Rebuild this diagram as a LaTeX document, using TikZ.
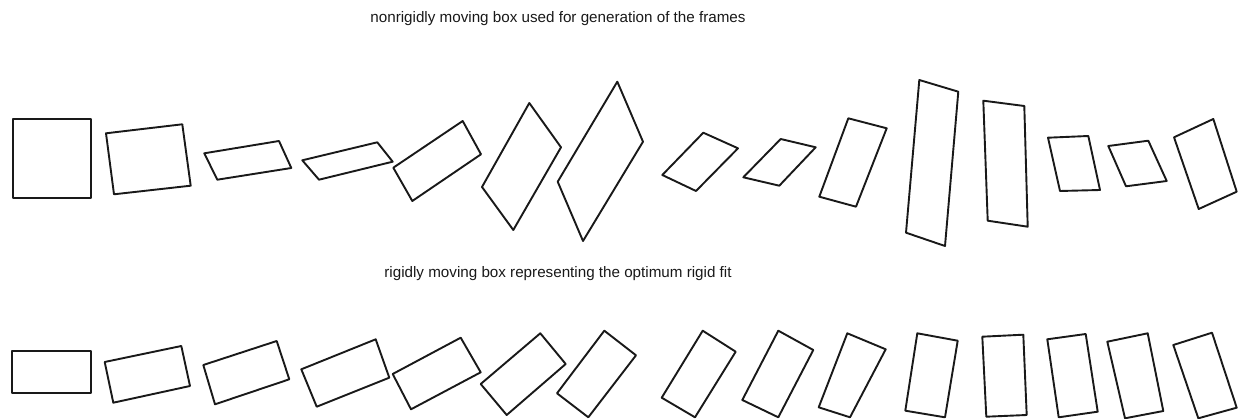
\documentclass[tikz,border=0pt]{standalone}
\usepackage{fontspec}
\setmainfont{Liberation Sans}

\tikzstyle{frame}=[draw=black!90, line width=1.9pt, line join=round]
\tikzstyle{caption}=[anchor=base, inner sep=0pt, text=black!90, font=\fontsize{15.2}{18}\selectfont]

\begin{document}
\begin{tikzpicture}[x=1pt, y=-1pt]
	\useasboundingbox (0,0) rectangle (1239,419);

	% Captions
	\node[caption] (nonrigid label) at (558,22.5) {nonrigidly moving box used for generation of the frames};
	\node[caption] (rigid label) at (558,278) {rigidly moving box representing the optimum rigid fit};

	% Nonrigidly moving box
	\draw[frame] (13,119) -- (91,119) -- (91,198) -- (13,198) -- cycle;
	\draw[frame] (106,133.3) -- (182.3,124.3) -- (190.7,185.7) -- (114,194.3) -- cycle;
	\draw[frame] (204.3,153.3) -- (279,141) -- (291.3,168) -- (217.3,179.7) -- cycle;
	\draw[frame] (302.3,160.3) -- (377.3,142.3) -- (392.7,161.7) -- (319,179.7) -- cycle;
	\draw[frame] (393.3,167.7) -- (462.7,121) -- (481,154.3) -- (412.3,201) -- cycle;
	\draw[frame] (529.3,103) -- (561,147.3) -- (513.3,230) -- (482,187) -- cycle;
	\draw[frame] (617.3,81.7) -- (643,141.7) -- (583,241) -- (557.7,181.7) -- cycle;
	\draw[frame] (703.3,132.7) -- (738,148.3) -- (696,191) -- (662.3,175) -- cycle;
	\draw[frame] (780.7,139) -- (815.7,147.3) -- (779.3,185.7) -- (743.3,177.3) -- cycle;
	\draw[frame] (848.3,118.3) -- (886.7,128.3) -- (856,206.7) -- (819.3,196.7) -- cycle;
	\draw[frame] (919.3,80) -- (958.3,91.7) -- (945,246) -- (906,232.7) -- cycle;
	\draw[frame] (983.3,100.7) -- (1024.3,106) -- (1027.7,226.7) -- (987.7,220.7) -- cycle;
	\draw[frame] (1048,137.7) -- (1088.3,136) -- (1100,190) -- (1060,191) -- cycle;
	\draw[frame] (1108.3,146) -- (1148.3,140.7) -- (1166.7,181) -- (1126,186.3) -- cycle;
	\draw[frame] (1174,137.3) -- (1213.3,119) -- (1236.7,191.7) -- (1198.7,209) -- cycle;

	% Optimum rigid fit
	\draw[frame] (12,351) -- (91.3,351) -- (91.3,392.7) -- (12,392.7) -- cycle;
	\draw[frame] (104.7,362) -- (181.3,346) -- (190,386) -- (113.3,402.7) -- cycle;
	\draw[frame] (203.3,365) -- (276.7,341) -- (289.3,379.3) -- (215,404.3) -- cycle;
	\draw[frame] (301.3,369.3) -- (375.7,339.3) -- (389.3,377.7) -- (316.7,406.7) -- cycle;
	\draw[frame] (392.7,374) -- (460.7,337.7) -- (480.7,372.3) -- (411,409.3) -- cycle;
	\draw[frame] (480.7,384) -- (540.3,333.3) -- (565.7,364) -- (506.7,415) -- cycle;
	\draw[frame] (557,393.3) -- (604.3,330.7) -- (636,355.3) -- (588.3,417.3) -- cycle;
	\draw[frame] (661.7,397.7) -- (702.7,330.7) -- (735.7,351.7) -- (695,417.3) -- cycle;
	\draw[frame] (742.3,400) -- (778.3,330.7) -- (813.3,350) -- (778.3,417.3) -- cycle;
	\draw[frame] (818.7,407.3) -- (847.3,333.3) -- (885.7,349.3) -- (850,417.3) -- cycle;
	\draw[frame] (905.3,410.7) -- (917.3,333.3) -- (957.7,340.7) -- (945,417.3) -- cycle;
	\draw[frame] (982.3,336.7) -- (1023.3,334.7) -- (1026.7,415) -- (986.3,416.7) -- cycle;
	\draw[frame] (1047.3,339.3) -- (1085.7,334) -- (1097.7,411.7) -- (1058.7,417.3) -- cycle;
	\draw[frame] (1107.3,341.7) -- (1147.7,333.3) -- (1163.3,411) -- (1125,418.3) -- cycle;
	\draw[frame] (1173.3,345) -- (1212,332.7) -- (1236.7,407.7) -- (1198.3,418.3) -- cycle;
\end{tikzpicture}
\end{document}
